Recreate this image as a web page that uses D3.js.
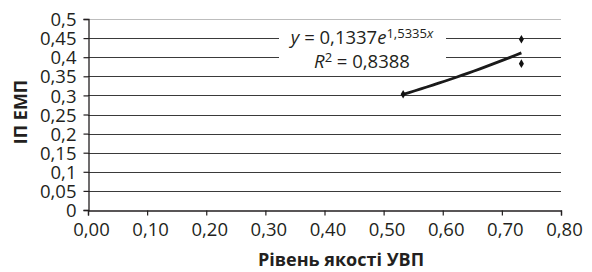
<!DOCTYPE html>
<html><head><meta charset="utf-8">
<script src="https://cdn.jsdelivr.net/npm/d3@7"></script>
<style>body{margin:0;background:#fff}svg{display:block}text{font-family:"Open Sans",sans-serif;fill:#231f20}</style>
</head><body>
<svg id="c" width="592" height="272"></svg>
<script>
const xVals = [0.533, 0.733, 0.733];
const yVals = [0.303, 0.447, 0.383];
const xTicks = [0, 0.1, 0.2, 0.3, 0.4, 0.5, 0.6, 0.7, 0.8];
const xTickLabels = ["0,00","0,10","0,20","0,30","0,40","0,50","0,60","0,70","0,80"];
const yTicks = [0, 0.05, 0.1, 0.15, 0.2, 0.25, 0.3, 0.35, 0.4, 0.45, 0.5];
const yTickLabels = ["0","0,05","0,1","0,15","0,2","0,25","0,3","0,35","0,4","0,45","0,5"];
const fitA = 0.1337, fitB = 1.5335;
const xTitle = "Рівень якості УВП";
const yTitle = "ІП ЕМП";

const svg = d3.select("#c");
const L = 88, R = 561, T = 19, B = 210;
const x = d3.scaleLinear().domain([0, 0.8]).range([L, R]);
const y = d3.scaleLinear().domain([0, 0.5]).range([B, T]);

// gridlines
svg.append("g").selectAll("line").data(yTicks.filter(d => d > 0)).join("line")
  .attr("x1", L).attr("x2", R).attr("y1", d => Math.round(y(d)) + 0.5).attr("y2", d => Math.round(y(d)) + 0.5)
  .attr("stroke", d => d === 0.5 ? "#bdbdbd" : "#3a3a3a").attr("stroke-width", 1.2);

// axes
const ya = svg.append("g").attr("transform", `translate(${L + 0.5},0)`)
  .call(d3.axisLeft(y).tickValues(yTicks).tickFormat((d, i) => yTickLabels[i]).tickSizeOuter(0).tickSize(5).tickPadding(7));
const xa = svg.append("g").attr("transform", `translate(0,${B + 0.5})`)
  .call(d3.axisBottom(x).tickValues(xTicks).tickFormat((d, i) => xTickLabels[i]).tickSizeOuter(0).tickSize(5).tickPadding(7));
[ya, xa].forEach(g => {
  g.select(".domain").attr("stroke", "#231f20").attr("stroke-width", 1.3);
  g.selectAll(".tick line").attr("stroke", "#231f20").attr("stroke-width", 1.2);
  g.selectAll("text").attr("font-family", "Open Sans").attr("font-size", 18.5).attr("fill", "#231f20");
});
ya.selectAll("text").attr("dy", "0.36em");
xa.selectAll("text").attr("dx", 3);

// trendline
const xs = d3.range(0, 21).map(i => d3.min(xVals) + (d3.max(xVals) - d3.min(xVals)) * i / 20);
svg.append("path").attr("d", d3.line().x(d => x(d)).y(d => y(fitA * Math.exp(fitB * d)))(xs))
  .attr("fill", "none").attr("stroke", "#1a1a1a").attr("stroke-width", 2.8);

// points
svg.append("g").selectAll("path").data(xVals.map((v, i) => [v, yVals[i]])).join("path")
  .attr("d", d3.symbol(d3.symbolDiamond, 22))
  .attr("transform", d => `translate(${x(d[0])},${y(d[1])})`).attr("fill", "#111");

// equation label
svg.append("rect").attr("x", 279).attr("y", 27).attr("width", 167).attr("height", 42).attr("fill", "#fff");
const eq = svg.append("text").attr("x", 362).attr("y", 44).attr("text-anchor", "middle").attr("font-size", 18.5);
eq.append("tspan").attr("font-style", "italic").text("y");
eq.append("tspan").text(" = 0,1337");
eq.append("tspan").attr("font-style", "italic").text("e");
eq.append("tspan").attr("font-size", 13).attr("dy", -6).text("1,5335");
eq.append("tspan").attr("font-size", 13).attr("font-style", "italic").text("x");
const r2 = svg.append("text").attr("x", 362).attr("y", 68).attr("text-anchor", "middle").attr("font-size", 18.5);
r2.append("tspan").attr("font-style", "italic").text("R");
r2.append("tspan").attr("font-size", 13).attr("dy", -6).text("2");
r2.append("tspan").attr("dy", 6).text(" = 0,8388");

// titles
svg.append("text").attr("x", 341).attr("y", 266).attr("text-anchor", "middle")
  .attr("font-weight", "bold").attr("font-size", 18).text(xTitle);
svg.append("text").attr("transform", "translate(27,112) rotate(-90)").attr("text-anchor", "middle")
  .attr("font-weight", "bold").attr("font-size", 18).text(yTitle);
</script>
</body></html>
